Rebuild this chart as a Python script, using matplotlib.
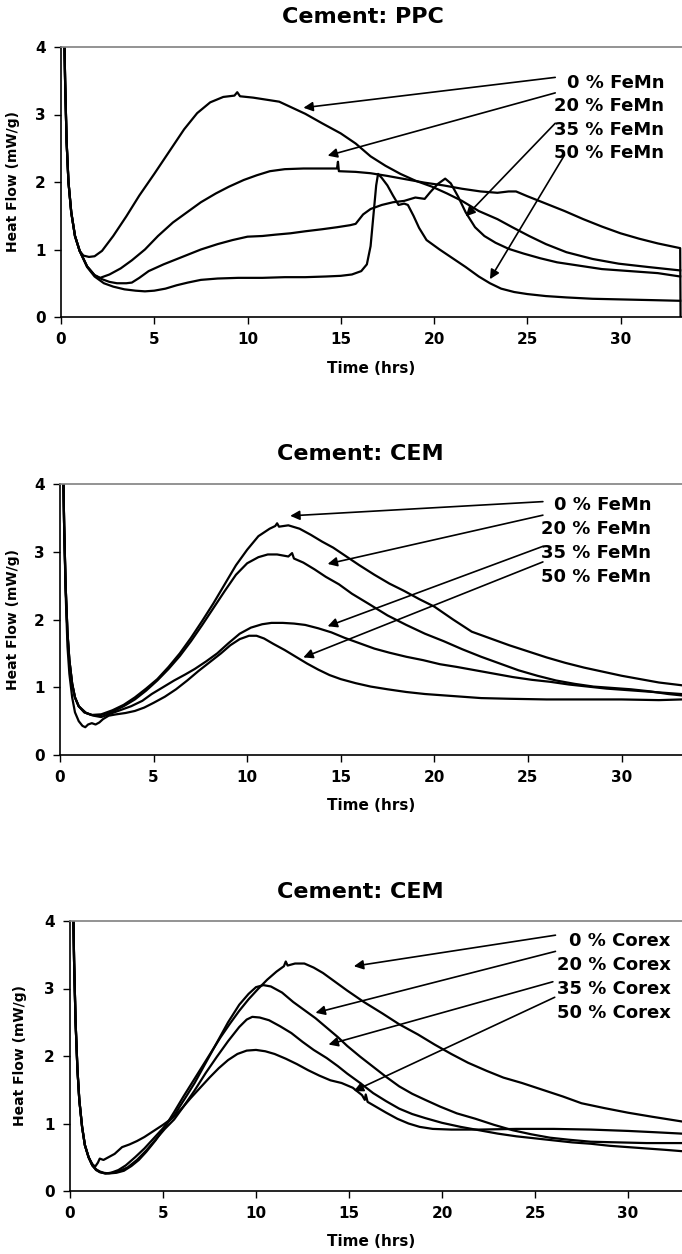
import numpy as np
import matplotlib
matplotlib.use("Agg")
import matplotlib.pyplot as plt

plt.rcParams['font.family'] = ['DejaVu Sans']

# ---------------- data (time in hrs, heat flow in mW/g) ----------------
TITLES = ["Cement: PPC", "Cement: CEM", "Cement: CEM"]
LABELS_FEMN = ["0 % FeMn", "20 % FeMn", "35 % FeMn", "50 % FeMn"]
LABELS_COREX = ["0 % Corex", "20 % Corex", "35 % Corex", "50 % Corex"]
X_TICKS = [0, 5, 10, 15, 20, 25, 30]
Y_TICKS = [0, 1, 2, 3, 4]

# Panel 1: PPC with FeMn
ppc_start = [(0.15, 4.6), (0.22, 3.5), (0.3, 2.6), (0.4, 2.0), (0.55, 1.55), (0.75, 1.2), (1.0, 0.98)]
ppc_0 = [(1.2, 0.91), (1.5, 0.89), (1.8, 0.9), (2.2, 0.98), (2.8, 1.2), (3.5, 1.49), (4.2, 1.8), (5.0, 2.12),
         (5.8, 2.45), (6.6, 2.78), (7.3, 3.02), (8.0, 3.18), (8.7, 3.26), (9.3, 3.28), (9.45, 3.33), (9.6, 3.27),
         (10.3, 3.25), (11.0, 3.22), (11.7, 3.19), (12.4, 3.1), (13.1, 3.01), (14.0, 2.87), (15.0, 2.72),
         (15.8, 2.57), (16.6, 2.38), (17.4, 2.24), (18.2, 2.12), (19.0, 2.02), (19.9, 1.93), (20.7, 1.83),
         (21.5, 1.72), (22.4, 1.57), (23.4, 1.45), (24.2, 1.33), (25.1, 1.2), (26.0, 1.08), (27.1, 0.96),
         (28.5, 0.86), (29.9, 0.79), (31.5, 0.74), (33.2, 0.69)]
ppc_20 = [(1.4, 0.75), (1.8, 0.62), (2.1, 0.58), (2.6, 0.63), (3.2, 0.72), (3.8, 0.84), (4.5, 1.0), (5.2, 1.2),
          (6.0, 1.4), (6.8, 1.56), (7.5, 1.7), (8.3, 1.83), (9.0, 1.93), (9.8, 2.03), (10.5, 2.1), (11.2, 2.16),
          (12.0, 2.19), (13.0, 2.2), (14.0, 2.2), (14.8, 2.2), (14.85, 2.3), (14.9, 2.16), (15.8, 2.15),
          (16.6, 2.13), (17.5, 2.09), (18.5, 2.04), (19.5, 1.99), (20.5, 1.95), (21.5, 1.9), (22.5, 1.86),
          (23.4, 1.84), (24.0, 1.86), (24.4, 1.86), (25.0, 1.79), (26.0, 1.68), (27.0, 1.57), (28.0, 1.45),
          (29.0, 1.34), (30.0, 1.24), (31.0, 1.16), (32.0, 1.09), (33.2, 1.02), (33.22, 0.0)]
ppc_35 = [(1.4, 0.75), (1.8, 0.62), (2.2, 0.56), (2.6, 0.52), (3.0, 0.5), (3.5, 0.5), (3.8, 0.51), (4.2, 0.58),
          (4.7, 0.68), (5.5, 0.78), (6.5, 0.89), (7.5, 1.0), (8.4, 1.08), (9.2, 1.14), (10.0, 1.19), (10.8, 1.2),
          (11.5, 1.22), (12.3, 1.24), (13.1, 1.27), (14.0, 1.3), (14.8, 1.33), (15.5, 1.36), (15.8, 1.38),
          (16.2, 1.52), (16.6, 1.6), (17.2, 1.66), (17.8, 1.7), (18.4, 1.72), (19.0, 1.77), (19.5, 1.75),
          (19.8, 1.85), (20.2, 1.97), (20.6, 2.05), (20.9, 1.98), (21.3, 1.78), (21.7, 1.55), (22.2, 1.33),
          (22.7, 1.2), (23.3, 1.1), (24.0, 1.01), (24.8, 0.94), (25.7, 0.87), (26.6, 0.81), (27.8, 0.76),
          (29.0, 0.71), (30.5, 0.68), (32.0, 0.65), (33.2, 0.6)]
ppc_50 = [(1.4, 0.74), (1.8, 0.6), (2.3, 0.5), (2.8, 0.45), (3.4, 0.41), (4.0, 0.39), (4.5, 0.38), (5.0, 0.39),
          (5.6, 0.42), (6.2, 0.47), (6.8, 0.51), (7.5, 0.55), (8.4, 0.57), (9.5, 0.58), (10.8, 0.58), (12.0, 0.59),
          (13.1, 0.59), (14.2, 0.6), (15.0, 0.61), (15.6, 0.63), (16.1, 0.68), (16.4, 0.78), (16.6, 1.05),
          (16.75, 1.5), (16.9, 1.95), (17.0, 2.12), (17.2, 2.06), (17.5, 1.95), (17.8, 1.8), (18.1, 1.66),
          (18.4, 1.68), (18.6, 1.66), (18.9, 1.5), (19.2, 1.32), (19.6, 1.14), (20.3, 1.0), (21.0, 0.87),
          (21.7, 0.74), (22.4, 0.6), (23.0, 0.5), (23.6, 0.42), (24.3, 0.37), (25.0, 0.34), (26.0, 0.31),
          (27.1, 0.29), (28.5, 0.27), (30.1, 0.26), (31.7, 0.25), (33.2, 0.24)]

# Panel 2: CEM with FeMn
cem_start = [(0.15, 4.6), (0.22, 3.4), (0.3, 2.5), (0.4, 1.8), (0.5, 1.4), (0.65, 1.05), (0.8, 0.85)]
cem_0 = [(1.0, 0.72), (1.3, 0.63), (1.7, 0.59), (2.2, 0.6), (2.8, 0.66), (3.4, 0.74), (4.0, 0.85), (4.6, 0.98),
         (5.2, 1.12), (5.8, 1.3), (6.4, 1.5), (7.0, 1.73), (7.6, 1.98), (8.2, 2.24), (8.8, 2.52), (9.4, 2.8),
         (10.0, 3.03), (10.6, 3.23), (11.2, 3.34), (11.5, 3.38), (11.6, 3.42), (11.7, 3.37), (12.2, 3.39),
         (12.8, 3.34), (13.4, 3.25), (14.0, 3.15), (14.6, 3.06), (15.3, 2.93), (16.0, 2.8), (16.8, 2.66),
         (17.6, 2.53), (18.4, 2.42), (19.2, 2.3), (20.0, 2.19), (21.0, 2.0), (22.0, 1.82), (23.0, 1.72),
         (24.0, 1.62), (25.0, 1.53), (26.0, 1.44), (27.0, 1.36), (28.0, 1.29), (29.0, 1.23), (30.0, 1.17),
         (31.0, 1.12), (32.0, 1.07), (33.2, 1.03)]
cem_20 = [(1.0, 0.72), (1.3, 0.63), (1.7, 0.59), (2.2, 0.59), (2.8, 0.64), (3.4, 0.72), (4.0, 0.82), (4.6, 0.95),
          (5.2, 1.1), (5.8, 1.27), (6.4, 1.46), (7.0, 1.68), (7.6, 1.92), (8.2, 2.17), (8.8, 2.42), (9.4, 2.66),
          (10.0, 2.83), (10.6, 2.92), (11.1, 2.96), (11.6, 2.96), (12.2, 2.93), (12.4, 2.98), (12.5, 2.9),
          (13.0, 2.84), (13.6, 2.74), (14.2, 2.63), (14.9, 2.52), (15.6, 2.38), (16.5, 2.23), (17.5, 2.06),
          (18.5, 1.92), (19.5, 1.79), (20.5, 1.68), (21.5, 1.56), (22.5, 1.45), (23.5, 1.35), (24.5, 1.25),
          (25.5, 1.17), (26.5, 1.1), (27.5, 1.05), (28.5, 1.01), (29.5, 0.99), (30.5, 0.97), (31.5, 0.94),
          (32.5, 0.9), (33.2, 0.88)]
cem_35 = [(1.0, 0.72), (1.4, 0.62), (1.8, 0.58), (2.2, 0.56), (2.8, 0.62), (3.4, 0.68), (3.8, 0.72), (4.4, 0.8),
          (4.9, 0.9), (5.5, 1.0), (6.1, 1.1), (6.7, 1.19), (7.2, 1.27), (7.8, 1.38), (8.4, 1.5), (9.0, 1.65),
          (9.6, 1.79), (10.2, 1.88), (10.8, 1.93), (11.3, 1.95), (11.9, 1.95), (12.5, 1.94), (13.1, 1.92),
          (13.8, 1.87), (14.5, 1.81), (15.2, 1.73), (16.0, 1.65), (16.8, 1.57), (17.6, 1.51), (18.5, 1.45),
          (19.4, 1.4), (20.3, 1.34), (21.2, 1.3), (22.2, 1.25), (23.2, 1.2), (24.2, 1.15), (25.2, 1.11),
          (26.2, 1.08), (27.2, 1.04), (28.2, 1.01), (29.2, 0.98), (30.2, 0.96), (31.2, 0.94), (32.2, 0.92),
          (33.2, 0.9)]
cem_50 = [(1.0, 0.5), (1.2, 0.43), (1.35, 0.41), (1.5, 0.45), (1.7, 0.47), (1.9, 0.45), (2.1, 0.48), (2.3, 0.53),
          (2.6, 0.58), (3.0, 0.6), (3.5, 0.62), (4.0, 0.65), (4.5, 0.7), (5.0, 0.77), (5.6, 0.86), (6.2, 0.97),
          (6.8, 1.1), (7.4, 1.24), (8.0, 1.37), (8.6, 1.5), (9.1, 1.62), (9.6, 1.71), (10.1, 1.76), (10.5, 1.76),
          (10.9, 1.72), (11.4, 1.64), (12.0, 1.55), (12.6, 1.45), (13.2, 1.35), (13.8, 1.26), (14.4, 1.18),
          (15.0, 1.12), (15.8, 1.06), (16.6, 1.01), (17.5, 0.97), (18.5, 0.93), (19.5, 0.9), (20.5, 0.88),
          (21.5, 0.86), (22.5, 0.84), (24.0, 0.83), (26.0, 0.82), (28.0, 0.82), (30.0, 0.82), (32.0, 0.81),
          (33.2, 0.82)]
cem_50_start = [(0.15, 4.6), (0.22, 3.4), (0.3, 2.4), (0.4, 1.6), (0.5, 1.2), (0.65, 0.85), (0.8, 0.63)]

# Panel 3: CEM with Corex
cx_start = [(0.15, 4.6), (0.22, 3.4), (0.3, 2.5), (0.4, 1.8), (0.5, 1.35), (0.65, 0.95), (0.8, 0.68), (1.0, 0.5)]
cx_0 = [(1.2, 0.38), (1.4, 0.32), (1.6, 0.29), (1.8, 0.27), (2.1, 0.26), (2.5, 0.27), (2.9, 0.3), (3.3, 0.37),
        (3.7, 0.46), (4.1, 0.58), (4.6, 0.75), (5.1, 0.95), (5.6, 1.17), (6.1, 1.4), (6.6, 1.62), (7.1, 1.84),
        (7.6, 2.06), (8.1, 2.28), (8.6, 2.48), (9.1, 2.67), (9.6, 2.84), (10.1, 2.99), (10.6, 3.13), (11.1, 3.25),
        (11.5, 3.33), (11.6, 3.4), (11.7, 3.34), (12.1, 3.37), (12.6, 3.37), (13.1, 3.31), (13.6, 3.23),
        (14.2, 3.11), (14.9, 2.97), (15.8, 2.8), (16.8, 2.63), (17.7, 2.47), (18.7, 2.32), (19.6, 2.17),
        (20.5, 2.03), (21.4, 1.9), (22.4, 1.78), (23.3, 1.68), (24.3, 1.6), (25.4, 1.5), (26.5, 1.4),
        (27.5, 1.3), (28.7, 1.23), (30.0, 1.16), (31.3, 1.1), (32.9, 1.03)]
cx_20 = [(1.2, 0.38), (1.4, 0.31), (1.6, 0.28), (1.9, 0.26), (2.2, 0.27), (2.6, 0.31), (3.0, 0.38), (3.5, 0.5),
         (4.0, 0.63), (4.5, 0.78), (5.0, 0.93), (5.6, 1.12), (6.2, 1.38), (6.7, 1.6), (7.3, 1.9), (7.9, 2.2),
         (8.5, 2.5), (9.1, 2.76), (9.6, 2.92), (10.0, 3.02), (10.4, 3.05), (10.8, 3.03), (11.4, 2.94), (12.0, 2.8),
         (12.6, 2.68), (13.2, 2.56), (13.8, 2.42), (14.4, 2.28), (14.9, 2.15), (15.6, 1.99), (16.3, 1.84),
         (17.0, 1.69), (17.7, 1.55), (18.4, 1.44), (19.1, 1.35), (19.9, 1.25), (20.8, 1.15), (21.8, 1.07),
         (22.8, 0.98), (23.8, 0.9), (24.8, 0.84), (25.8, 0.79), (26.8, 0.76), (28.0, 0.73), (29.5, 0.72),
         (31.0, 0.71), (32.9, 0.71)]
cx_35 = [(1.2, 0.38), (1.4, 0.32), (1.6, 0.28), (1.9, 0.26), (2.3, 0.27), (2.7, 0.3), (3.1, 0.35), (3.6, 0.46),
         (4.1, 0.6), (4.6, 0.76), (5.1, 0.92), (5.6, 1.06), (6.1, 1.25), (6.7, 1.49), (7.3, 1.75), (7.9, 1.99),
         (8.5, 2.22), (9.1, 2.43), (9.5, 2.54), (9.8, 2.58), (10.2, 2.57), (10.7, 2.53), (11.3, 2.44),
         (11.9, 2.34), (12.5, 2.21), (13.1, 2.09), (13.8, 1.97), (14.4, 1.85), (14.9, 1.74), (15.6, 1.6),
         (16.3, 1.45), (17.0, 1.33), (17.7, 1.22), (18.4, 1.14), (19.1, 1.08), (20.0, 1.01), (21.0, 0.95),
         (22.0, 0.9), (23.0, 0.85), (24.0, 0.81), (25.0, 0.78), (26.0, 0.75), (27.0, 0.72), (28.0, 0.7),
         (29.0, 0.67), (30.0, 0.65), (31.0, 0.63), (32.0, 0.61), (32.9, 0.59)]
cx_50 = [(1.2, 0.4), (1.35, 0.36), (1.5, 0.42), (1.6, 0.48), (1.8, 0.46), (2.0, 0.49), (2.2, 0.52), (2.4, 0.55),
         (2.6, 0.6), (2.8, 0.65), (3.2, 0.69), (3.6, 0.74), (4.0, 0.8), (4.5, 0.89), (5.0, 0.98), (5.5, 1.08),
         (6.0, 1.22), (6.5, 1.38), (7.0, 1.53), (7.5, 1.68), (8.0, 1.82), (8.5, 1.94), (9.0, 2.03), (9.5, 2.08),
         (10.0, 2.09), (10.5, 2.07), (11.0, 2.03), (11.6, 1.96), (12.2, 1.88), (12.8, 1.79), (13.4, 1.71),
         (14.0, 1.64), (14.6, 1.6), (15.2, 1.53), (15.7, 1.42), (15.85, 1.35), (15.9, 1.43), (16.0, 1.32),
         (16.5, 1.24), (17.0, 1.16), (17.6, 1.07), (18.2, 1.0), (18.8, 0.95), (19.5, 0.92), (20.5, 0.91),
         (22.0, 0.91), (24.0, 0.92), (26.0, 0.92), (28.0, 0.91), (30.0, 0.89), (31.5, 0.87), (32.9, 0.85)]

PANEL_SERIES = [
    [ppc_start + ppc_0, ppc_start + ppc_20, ppc_start + ppc_35, ppc_start + ppc_50],
    [cem_start + cem_0, cem_start + cem_20, cem_start + cem_35, cem_50_start + cem_50],
    [cx_start + cx_0, cx_start + cx_20, cx_start + cx_35, cx_start + cx_50],
]
PANEL_LABELS = [LABELS_FEMN, LABELS_FEMN, LABELS_COREX]

# ---------------- layout / style ----------------
W, H = 682, 1254
fig = plt.figure(figsize=(W / 100, H / 100), dpi=100)

# (left px, top px, bottom px, x-units per px reference: x at 30 px)
layouts = [
    dict(left=61, top=47, bottom=317, x30=620.5, title_x=363, title_y=17),
    dict(left=60, top=484, bottom=755, x30=621.5, title_x=360, title_y=454),
    dict(left=70, top=921, bottom=1191, x30=628.0, title_x=360, title_y=892),
]
# annotation geometry (data coords): text right edge x, row ys, arrow tails, arrow heads
annots = [
    dict(tx=32.35, ty=[3.46, 3.12, 2.77, 2.43],
         tails=[(26.5, 3.55), (26.5, 3.32), (26.5, 2.87), (27.0, 2.40)],
         heads=[(13.0, 3.1), (14.3, 2.39), (21.7, 1.49), (23.0, 0.56)]),
    dict(tx=31.6, ty=[3.69, 3.33, 2.98, 2.63],
         tails=[(25.8, 3.74), (25.8, 3.54), (25.8, 3.08), (25.8, 2.85)],
         heads=[(12.3, 3.53), (14.3, 2.82), (14.3, 1.9), (13.0, 1.44)]),
    dict(tx=32.3, ty=[3.71, 3.35, 3.0, 2.64],
         tails=[(26.1, 3.79), (26.1, 3.55), (25.96, 3.10), (26.06, 2.87)],
         heads=[(15.26, 3.33), (13.2, 2.64), (13.9, 2.17), (15.26, 1.48)]),
]

for i, lay in enumerate(layouts):
    left, top, bottom = lay['left'], lay['top'], lay['bottom']
    ax = fig.add_axes([left / W, 1 - bottom / H, (W - left) / W, (bottom - top) / H])
    px_per_unit = (lay['x30'] - left) / 30.0
    ax.set_xlim(0, (W - left) / px_per_unit)
    ax.set_ylim(0, 4)

    for s in PANEL_SERIES[i]:
        arr = np.array(s)
        ax.plot(arr[:, 0], arr[:, 1], color='black', lw=1.6, solid_joinstyle='round')

    ax.set_xticks(X_TICKS)
    ax.set_yticks(Y_TICKS)
    ax.set_xticklabels([str(t) for t in X_TICKS], fontweight='bold', fontsize=11)
    ax.set_yticklabels([str(t) for t in Y_TICKS], fontweight='bold', fontsize=11)
    ax.tick_params(axis='both', direction='out', length=5, width=1.0, color='black')
    ax.tick_params(axis='x', pad=6)
    ax.tick_params(axis='y', pad=6)

    ax.spines['left'].set_linewidth(1.2)
    ax.spines['bottom'].set_linewidth(1.2)
    ax.spines['top'].set_color('#808080')
    ax.spines['top'].set_linewidth(1.2)
    ax.spines['right'].set_visible(False)

    ax.set_ylabel("Heat Flow (mW/g)", fontweight='bold', fontsize=10, va='center')
    ax.yaxis.set_label_coords((13 if i < 2 else 20 - left + left) / 1 if False else ((13 if i < 2 else 20) - left) / (W - left), 0.5)
    ax.set_xlabel("Time (hrs)", fontweight='bold', fontsize=11, va='center')
    ax.xaxis.set_label_coords((371 - left) / (W - left), -(368 - 317) / (bottom - top))

    fig.text(lay['title_x'] / W, 1 - lay['title_y'] / H, TITLES[i], ha='center', va='center',
             fontsize=16, fontweight='bold')

    an = annots[i]
    for lab, ty, tail, head in zip(PANEL_LABELS[i], an['ty'], an['tails'], an['heads']):
        ax.text(an['tx'], ty, lab, ha='right', va='center', fontsize=13, fontweight='bold')
        ax.annotate("", xy=head, xytext=tail,
                    arrowprops=dict(arrowstyle='-|>', color='black', lw=1.2,
                                    mutation_scale=14, shrinkA=0, shrinkB=0))

fig.savefig("out.png", dpi=100)
